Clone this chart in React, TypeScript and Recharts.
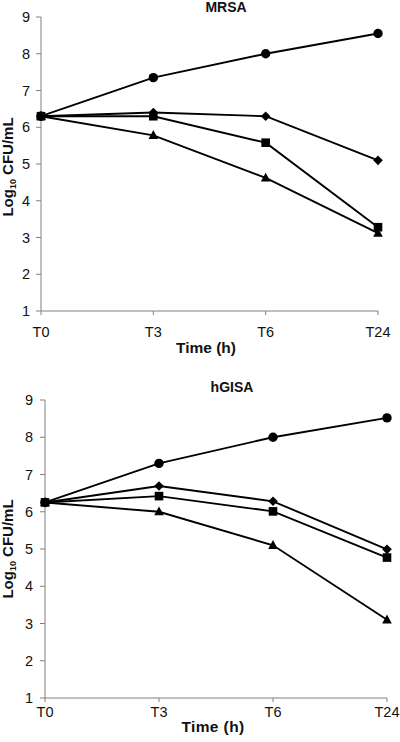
import { Label, Line, LineChart, XAxis, YAxis } from "recharts";

const times = ["T0", "T3", "T6", "T24"];
const yTicks = [1, 2, 3, 4, 5, 6, 7, 8, 9];

const mrsaCircle = [6.3, 7.35, 8.0, 8.55];
const mrsaDiamond = [6.3, 6.4, 6.3, 5.1];
const mrsaSquare = [6.3, 6.3, 5.58, 3.28];
const mrsaTriangle = [6.3, 5.78, 4.62, 3.12];

const hgisaCircle = [6.25, 7.3, 8.0, 8.52];
const hgisaDiamond = [6.25, 6.69, 6.28, 4.99];
const hgisaSquare = [6.25, 6.42, 6.01, 4.77];
const hgisaTriangle = [6.25, 6.0, 5.1, 3.1];

const FONT = "'Liberation Sans', Arial, sans-serif";
const AXIS = "#808080";
const INK = "#111";

type Shape = "circle" | "diamond" | "square" | "triangle";

function Marker({ cx, cy, shape }: { cx?: number; cy?: number; shape: Shape }) {
  if (cx == null || cy == null) return null;
  if (shape === "circle") return <circle cx={cx} cy={cy} r={4.7} fill="#000" />;
  if (shape === "square") return <rect x={cx - 4.3} y={cy - 4.3} width={8.6} height={8.6} fill="#000" />;
  if (shape === "diamond")
    return <polygon points={`${cx},${cy - 4.8} ${cx + 4.8},${cy} ${cx},${cy + 4.8} ${cx - 4.8},${cy}`} fill="#000" />;
  return <polygon points={`${cx},${cy - 5.3} ${cx + 4.8},${cy + 3.6} ${cx - 4.8},${cy + 3.6}`} fill="#000" />;
}

function buildRows(circle: number[], diamond: number[], square: number[], triangle: number[]) {
  return times.map((t, i) => ({
    time: t,
    circle: circle[i],
    diamond: diamond[i],
    square: square[i],
    triangle: triangle[i],
  }));
}

function YLabel({ viewBox, shift }: any) {
  const bx = 13;
  const cy = viewBox.y + viewBox.height / 2 + shift;
  return (
    <text
      x={bx}
      y={cy}
      transform={`rotate(-90, ${bx}, ${cy})`}
      textAnchor="middle"
      fontFamily={FONT}
      fontWeight="bold"
      fontSize={15}
      fill={INK}
    >
      Log
      <tspan fontSize={9} dy={3}>10</tspan>
      <tspan dy={-3}> CFU/mL</tspan>
    </text>
  );
}

function XLabel({ viewBox, baseline, dx, spacing }: any) {
  return (
    <text
      x={viewBox.x + viewBox.width / 2 + dx}
      y={viewBox.y + baseline}
      textAnchor="middle"
      fontFamily={FONT}
      fontWeight="bold"
      fontSize={15.5}
      letterSpacing={spacing}
      fill={INK}
    >
      Time (h)
    </text>
  );
}

interface PanelProps {
  title: string;
  rows: ReturnType<typeof buildRows>;
  height: number;
  top: number;
  right: number;
  yWidth: number;
  xHeight: number;
  xTickMargin: number;
  yTickMargin: number;
  titleX: number;
  titleTop: number;
  xLabelBaseline: number;
  xLabelDx: number;
  xLabelSpacing: number;
  yLabelShift: number;
}

function Panel(p: PanelProps) {
  const shapes: Shape[] = ["circle", "diamond", "square", "triangle"];
  return (
    <div style={{ position: "relative", width: 400, height: p.height }}>
      <div
        style={{
          position: "absolute",
          left: p.titleX - 40,
          top: p.titleTop,
          width: 80,
          textAlign: "center",
          fontFamily: FONT,
          fontWeight: "bold",
          fontSize: 14,
          lineHeight: "16px",
          color: INK,
        }}
      >
        {p.title}
      </div>
      <LineChart width={400} height={p.height} data={p.rows} margin={{ top: p.top, right: p.right, left: 0, bottom: 0 }}>
        <XAxis
          dataKey="time"
          height={p.xHeight}
          stroke={AXIS}
          tickSize={4}
          tickMargin={p.xTickMargin}
          tick={{ fill: INK, fontSize: 14.5, fontFamily: FONT }}
          interval={0}
        >
          <Label
            content={(lp: any) => (
              <XLabel viewBox={lp.viewBox} baseline={p.xLabelBaseline} dx={p.xLabelDx} spacing={p.xLabelSpacing} />
            )}
          />
        </XAxis>
        <YAxis
          domain={[1, 9]}
          ticks={yTicks}
          width={p.yWidth}
          stroke={AXIS}
          tickSize={5}
          tickMargin={p.yTickMargin}
          tick={{ fill: INK, fontSize: 14.5, fontFamily: FONT }}
        >
          <Label content={(lp: any) => <YLabel viewBox={lp.viewBox} shift={p.yLabelShift} />} />
        </YAxis>
        {shapes.map((s) => (
          <Line
            key={s}
            dataKey={s}
            stroke="#000"
            strokeWidth={1.9}
            isAnimationActive={false}
            dot={(d: any) => <Marker key={`${s}-${d.index}`} cx={d.cx} cy={d.cy} shape={s} />}
            activeDot={false}
          />
        ))}
      </LineChart>
    </div>
  );
}

export default function App() {
  return (
    <div style={{ position: "absolute", left: 0, top: 0, width: 400, height: 742, background: "#fff" }}>
      <Panel
        title="MRSA"
        rows={buildRows(mrsaCircle, mrsaDiamond, mrsaSquare, mrsaTriangle)}
        height={370}
        top={17}
        right={22}
        yWidth={41}
        xHeight={59}
        xTickMargin={12}
        yTickMargin={6}
        titleX={226}
        titleTop={-1}
        xLabelBaseline={42}
        xLabelDx={-3.5}
        xLabelSpacing={0}
        yLabelShift={3}
      />
      <Panel
        title="hGISA"
        rows={buildRows(hgisaCircle, hgisaDiamond, hgisaSquare, hgisaTriangle)}
        height={372}
        top={30}
        right={13}
        yWidth={45}
        xHeight={44}
        xTickMargin={5}
        yTickMargin={7}
        titleX={232}
        titleTop={9}
        xLabelBaseline={33.5}
        xLabelDx={-3}
        xLabelSpacing={0.4}
        yLabelShift={0}
      />
    </div>
  );
}
